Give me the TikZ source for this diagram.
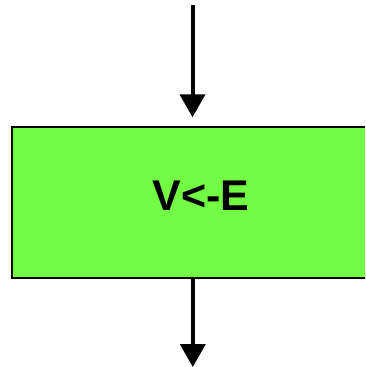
\documentclass[tikz,border=0pt]{standalone}
\usepackage{fontspec}
\setmainfont{Liberation Sans}
\usetikzlibrary{arrows.meta}
\definecolor{boxgreen}{RGB}{115,252,68}
\tikzset{
  procbox/.style={draw=black, line width=1.5pt, fill=boxgreen, rectangle, minimum width=378pt, minimum height=151pt, inner sep=0pt},
  lbltext/.style={font=\fontsize{43}{43}\selectfont\bfseries, inner sep=0pt, text=black},
  flow/.style={line width=4pt, -{Triangle[width=25pt,length=23pt]}}
}
\begin{document}
\begin{tikzpicture}[x=1pt,y=-1pt]
\useasboundingbox (0,0) rectangle (365,367);
\clip (0,0) rectangle (365,367);
\node[procbox] (box) at (201,202.5) {};
\node[lbltext] (lbl) at (201,196) {V<-E};
\coordinate (in) at (192.5,5);
\coordinate (out) at (192.8,367);
\draw[flow, shorten >=9pt] (in) -- (in |- box.north);
\draw[flow] (out |- box.south) -- (out);
\end{tikzpicture}
\end{document}
